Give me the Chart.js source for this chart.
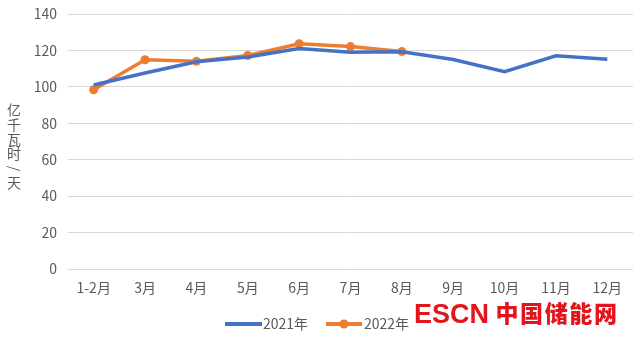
<!DOCTYPE html>
<html lang="zh">
<head>
  <meta charset="UTF-8">
  <title>日均发电量</title>
  <script src="https://cdn.jsdelivr.net/npm/chart.js"></script>
  <style>
    html, body { margin: 0; padding: 0; background: #fff; }
    #wrap { width: 639px; height: 341px; position: relative; }
  </style>
</head>
<body>
  <div id="wrap"><canvas id="dianliang"></canvas></div>

  <script>
    const yue = ['1-2月', '3月', '4月', '5月', '6月', '7月', '8月', '9月', '10月', '11月', '12月'];
    const zhi2021 = [101, 107.6, 113.8, 116.4, 121, 119, 119.3, 115, 108.3, 117.1, 115.2];
    const zhi2022 = [98.4, 114.9, 114, 117.2, 123.7, 122.1, 119.4];
    const danwei = ['亿', '千', '瓦', '时', '/', '天'];

    const LAN = '#4472C4';
    const CHENG = '#ED7D31';
    const HUI = '#595959';
    const ziti = '"Noto Sans CJK SC", "Liberation Sans", sans-serif';

    // 竖排单位、底部图例、水印
    const huaFuzhu = {
      id: 'huaFuzhu',
      afterDraw(chart) {
        const c = chart.ctx;
        c.save();
        c.fillStyle = HUI;
        c.font = '14px ' + ziti;
        c.textAlign = 'center';
        c.textBaseline = 'middle';
        danwei.forEach((z, i) => {
          const y = 110 + i * 14.6;
          if (z === '/') {
            c.save();
            c.translate(14, y);
            c.rotate(Math.PI / 2);
            c.fillText(z, 0, 0);
            c.restore();
          } else {
            c.fillText(z, 14, y);
          }
        });

        // 图例
        c.lineCap = 'butt';
        c.lineWidth = 4;
        c.strokeStyle = LAN;
        c.beginPath(); c.moveTo(225, 324); c.lineTo(262, 324); c.stroke();
        c.strokeStyle = CHENG;
        c.beginPath(); c.moveTo(326, 324); c.lineTo(362, 324); c.stroke();
        c.fillStyle = CHENG;
        c.beginPath(); c.arc(344, 324, 4.5, 0, Math.PI * 2); c.fill();
        c.fillStyle = HUI;
        c.textAlign = 'left';
        c.fillText(chart.data.datasets[0].label, 263, 324);
        c.fillText(chart.data.datasets[1].label, 364, 324);

        // 水印
        c.fillStyle = '#E2141C';
        c.textBaseline = 'alphabetic';
        c.font = 'bold 27px "Liberation Sans", sans-serif';
        c.fillText('ESCN', 414, 323);
        c.font = '900 23px "Noto Sans CJK SC", sans-serif';
        c.textAlign = 'center';
        '中国储能网'.split('').forEach((z, i) => {
          c.fillText(z, 507 + i * 24.6, 322);
        });
        c.restore();
      }
    };

    new Chart(document.getElementById('dianliang').getContext('2d'), {
      type: 'line',
      data: {
        labels: yue,
        datasets: [
          { label: '2021年', data: zhi2021, borderColor: LAN, backgroundColor: LAN, borderWidth: 3.5, pointRadius: 0, tension: 0 },
          { label: '2022年', data: zhi2022, borderColor: CHENG, backgroundColor: CHENG, borderWidth: 3.5, pointRadius: 4.5, pointBorderWidth: 0, tension: 0 }
        ]
      },
      options: {
        responsive: true,
        maintainAspectRatio: false,
        animation: false,
        layout: { padding: { left: 0, right: 6, top: 14, bottom: 0 } },
        plugins: { legend: { display: false }, tooltip: { enabled: false } },
        scales: {
          x: {
            offset: true,
            grid: { display: false },
            border: { display: false },
            ticks: { color: HUI, font: { size: 14, family: ziti, lineHeight: 1 }, padding: 4, maxRotation: 0 },
            afterFit: s => { s.height = 72; }
          },
          y: {
            min: 0,
            max: 140,
            grid: { color: '#D9D9D9', lineWidth: 1, drawTicks: false },
            border: { display: false },
            ticks: { stepSize: 20, color: HUI, font: { size: 14, family: ziti, lineHeight: 1 }, padding: 11 },
            afterFit: s => { s.width = 68; s.paddingTop = 0; s.paddingBottom = 0; }
          }
        }
      },
      plugins: [huaFuzhu]
    });
  </script>
</body>
</html>
